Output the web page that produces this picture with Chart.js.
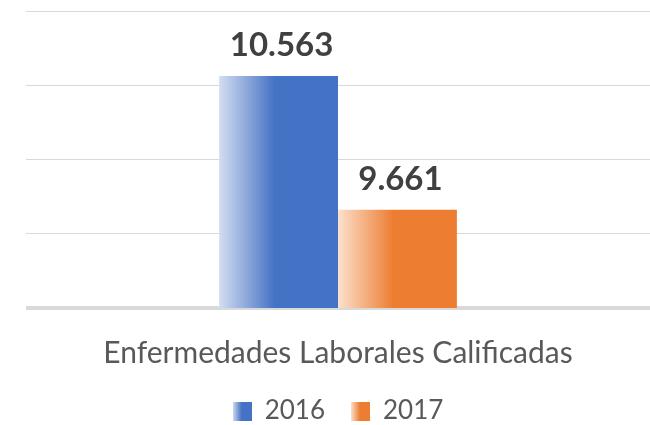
<!DOCTYPE html>
<html>
<head>
<meta charset="utf-8">
<script src="https://cdn.jsdelivr.net/npm/chart.js@4.4.0/dist/chart.umd.min.js"></script>
<style>
  html, body { margin: 0; padding: 0; background: #ffffff; }
  #wrap { width: 650px; height: 425px; position: relative; }
</style>
</head>
<body>
<div id="wrap"><canvas id="c"></canvas></div>
<script>
// ---- data ----
const categories = ["Enfermedades Laborales Calificadas"];
const seriesNames = ["2016", "2017"];
const values2016 = [10563];
const values2017 = [9661];
const yTicks = [9000, 9500, 10000, 10500, 11000];

// ---- styles ----
const BASE = ["#4472c4", "#ed7d31"];
const LIGHT = ["#d3ddf1", "#fbe0cc"];
const CAT_PCT = 0.381;
const FONT = "Lato";
const LEGEND_HEIGHT = 53;
const XAXIS_HEIGHT = 64;

function fmt(v) {
  return String(v).replace(/\B(?=(\d{3})+(?!\d))/g, ".");
}

function barGradient(ctx) {
  const chart = ctx.chart;
  const i = ctx.datasetIndex || 0;
  const xs = chart.scales && chart.scales.x;
  if (!xs || !chart.chartArea || !isFinite(xs.width) || xs.width <= 0) return BASE[i];
  const catW = xs.width / categories.length;
  const groupW = catW * CAT_PCT;
  const barW = groupW / seriesNames.length;
  const center = xs.getPixelForValue(ctx.dataIndex || 0);
  const left = center - groupW / 2 + i * barW;
  const g = chart.ctx.createLinearGradient(left, 0, left + barW, 0);
  g.addColorStop(0, LIGHT[i]);
  g.addColorStop(0.47, BASE[i]);
  g.addColorStop(1, BASE[i]);
  return g;
}

function legendSwatch(i) {
  const c = document.createElement("canvas");
  c.width = 19; c.height = 19;
  const x = c.getContext("2d");
  const g = x.createLinearGradient(0, 0, 19, 0);
  g.addColorStop(0, LIGHT[i]);
  g.addColorStop(0.47, BASE[i]);
  g.addColorStop(1, BASE[i]);
  x.fillStyle = g;
  x.fillRect(0, 0, 19, 19);
  return c;
}
const swatches = [legendSwatch(0), legendSwatch(1)];

const valueLabels = {
  id: "valueLabels",
  afterDatasetsDraw(chart) {
    const ctx = chart.ctx;
    ctx.save();
    ctx.font = "bold 33px " + FONT;
    ctx.fillStyle = "#404040";
    ctx.textAlign = "center";
    ctx.textBaseline = "alphabetic";
    chart.data.datasets.forEach((ds, di) => {
      const meta = chart.getDatasetMeta(di);
      meta.data.forEach((el, j) => {
        ctx.fillText(fmt(ds.data[j]), el.x + 3, el.y - 20);
      });
    });
    ctx.restore();
  }
};

const legendHeightFix = {
  id: "legendHeightFix",
  beforeLayout(chart) {
    const lg = chart.legend;
    if (lg && !lg._hFixed) {
      const orig = lg.fit.bind(lg);
      lg.fit = function () { orig(); this.height = LEGEND_HEIGHT; };
      lg._hFixed = true;
    }
  }
};

new Chart(document.getElementById("c"), {
  type: "bar",
  data: {
    labels: categories,
    datasets: [
      { label: seriesNames[0], data: values2016, backgroundColor: barGradient, borderWidth: 0 },
      { label: seriesNames[1], data: values2017, backgroundColor: barGradient, borderWidth: 0 }
    ]
  },
  options: {
    responsive: true,
    maintainAspectRatio: false,
    animation: false,
    layout: { padding: { left: 26, right: 0, top: 11, bottom: 0 } },
    datasets: { bar: { categoryPercentage: CAT_PCT, barPercentage: 1 } },
    scales: {
      x: {
        grid: { display: false, drawTicks: false },
        border: { display: false },
        afterFit(scale) { scale.height = XAXIS_HEIGHT; },
        ticks: { color: "#595959", font: { family: FONT, size: 30 }, padding: 27 }
      },
      y: {
        min: yTicks[0],
        max: yTicks[yTicks.length - 1],
        afterBuildTicks(axis) { axis.ticks = yTicks.map(v => ({ value: v })); },
        ticks: { display: false },
        grid: {
          drawTicks: false,
          color: "#d9d9d9",
          lineWidth: (c) => (c.tick && c.tick.value === yTicks[0] ? 4 : 1)
        },
        border: { display: false }
      }
    },
    plugins: {
      tooltip: { enabled: false },
      legend: {
        position: "bottom",
        labels: {
          usePointStyle: true,
          boxHeight: 19,
          pointStyleWidth: 19,
          padding: 26,
          color: "#595959",
          font: { family: FONT, size: 26 },
          generateLabels(chart) {
            return chart.data.datasets.map((ds, i) => ({
              text: ds.label,
              pointStyle: swatches[i],
              fillStyle: BASE[i],
              strokeStyle: BASE[i],
              lineWidth: 0,
              hidden: false,
              datasetIndex: i,
              fontColor: "#595959"
            }));
          }
        }
      }
    }
  },
  plugins: [legendHeightFix, valueLabels]
});
</script>
</body>
</html>
